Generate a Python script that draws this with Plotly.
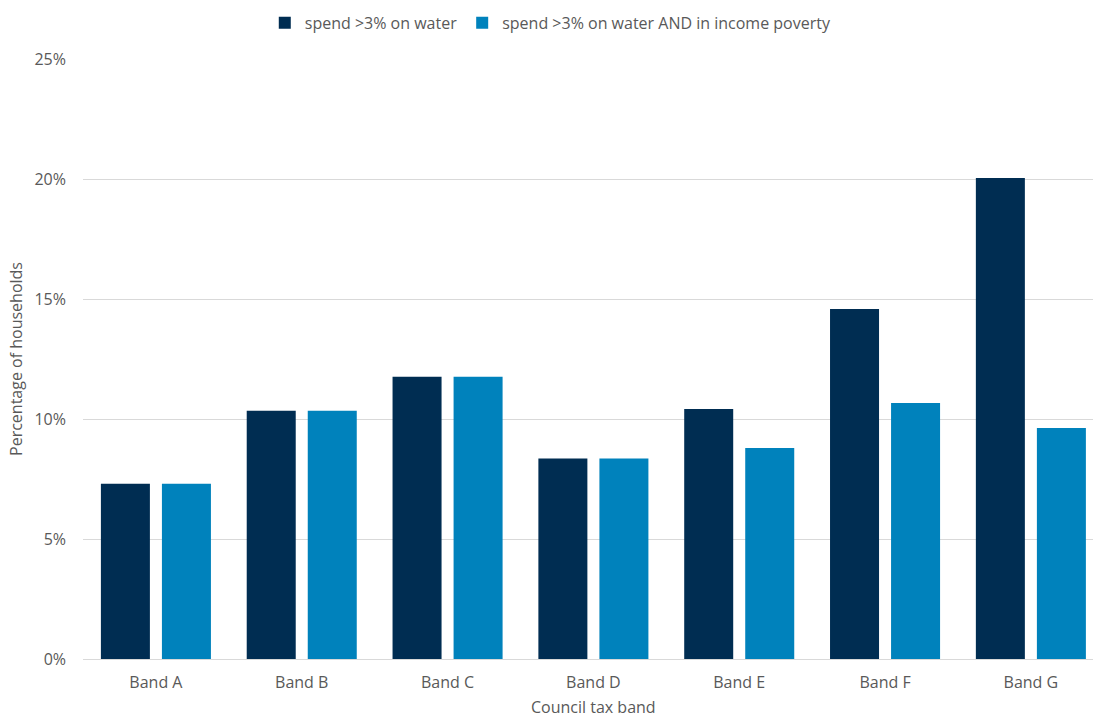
import plotly.graph_objects as go

categories = ["Band A", "Band B", "Band C", "Band D", "Band E", "Band F", "Band G"]
spend_water = [0.0730, 0.1034, 0.1176, 0.0835, 0.1042, 0.1458, 0.2004]
spend_water_poverty = [0.0730, 0.1034, 0.1176, 0.0835, 0.0879, 0.1067, 0.0962]
series_names = ["spend >3% on water", "spend >3% on water AND in income poverty"]
x_title = "Council tax band"
y_title = "Percentage of households"

font_family = "Open Sans, Liberation Sans, sans-serif"
grey = "#595959"

fig = go.Figure()
fig.add_trace(go.Bar(x=categories, y=spend_water, name=series_names[0],
                     marker=dict(color="#002D52", line=dict(width=0))))
fig.add_trace(go.Bar(x=categories, y=spend_water_poverty, name=series_names[1],
                     marker=dict(color="#0082BC", line=dict(width=0))))

fig.update_layout(
    width=1095, height=718,
    margin=dict(l=83, r=2, t=59, b=59),
    paper_bgcolor="white", plot_bgcolor="white",
    barmode="group", bargap=0.163, bargroupgap=0.197,
    font=dict(family=font_family, size=16, color=grey),
    legend=dict(orientation="h", x=0.503, xanchor="center", xref="container",
                y=0.992, yanchor="top", yref="container",
                font=dict(size=16, color=grey),
                itemwidth=30, traceorder="normal"),
    showlegend=True,
    annotations=[dict(text=x_title, xref="paper", yref="paper", x=0.505, y=-0.08,
                      xanchor="center", yanchor="middle", showarrow=False,
                      borderpad=0, font=dict(size=16, color=grey))],
)
fig.update_xaxes(range=[-0.5, 6.426],
                 showline=True, linecolor="#D9D9D9", linewidth=1, ticks="",
                 ticklabelstandoff=9,
                 tickfont=dict(size=16, color=grey))
fig.update_yaxes(range=[0, 0.25], dtick=0.05, tickformat=".0%",
                 title=dict(text=y_title, font=dict(size=16, color=grey), standoff=7),
                 showgrid=True, gridcolor="#D9D9D9", gridwidth=1, zeroline=False,
                 ticklabelstandoff=16,
                 tickfont=dict(size=16, color=grey))

fig.write_html("out.html")
